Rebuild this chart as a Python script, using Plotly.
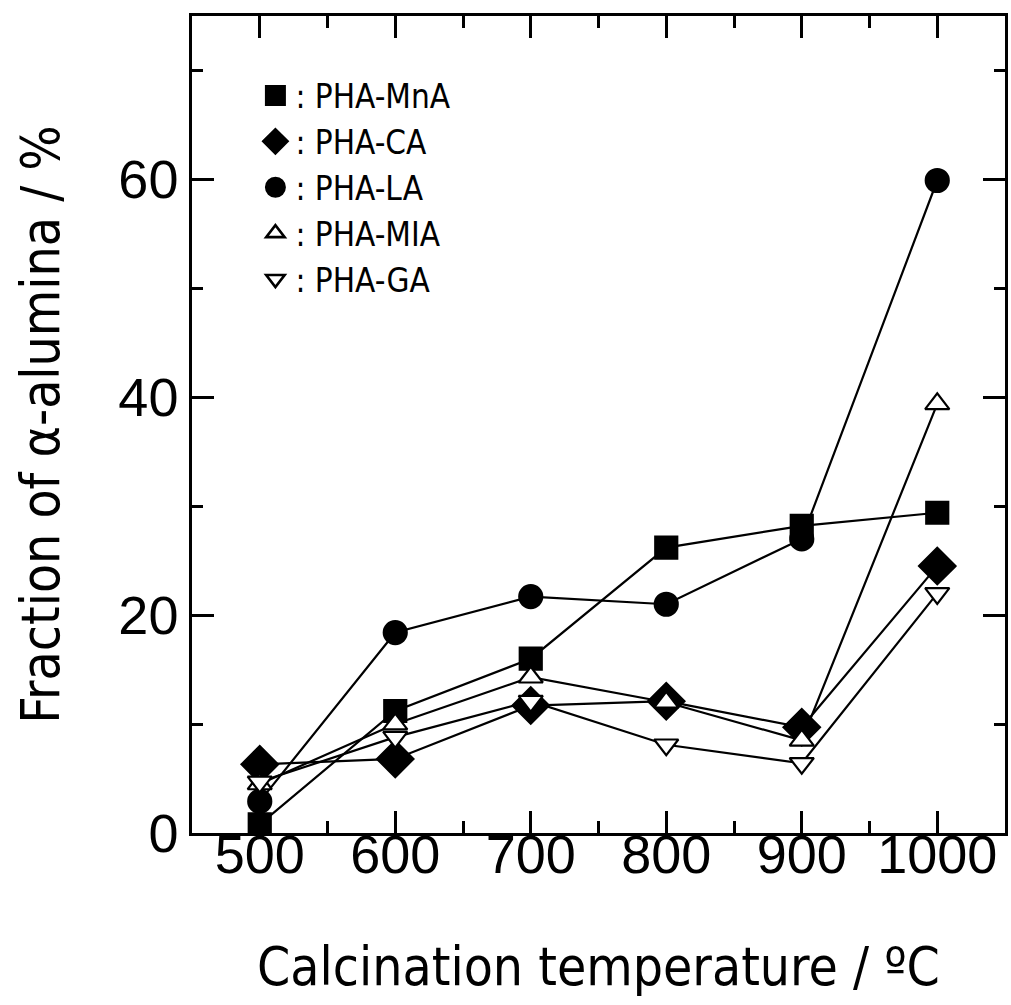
import plotly.graph_objects as go

temps = [500, 600, 700, 800, 900, 1000]
pha_mna = [0.8, 11.2, 16.0, 26.2, 28.2, 29.4]
pha_ca = [6.3, 6.8, 11.7, 12.1, 9.7, 24.5]
pha_la = [2.9, 18.4, 21.7, 21.0, 27.0, 59.9]
pha_mia = [4.5, 10.0, 14.3, 12.0, 8.5, 39.4]
pha_ga = [4.7, 8.8, 12.1, 8.1, 6.4, 22.0]

names = [": PHA-MnA", ": PHA-CA", ": PHA-LA", ": PHA-MIA", ": PHA-GA"]
values = [pha_mna, pha_ca, pha_la, pha_mia, pha_ga]
symbols = ["square", "diamond", "circle", "triangle-up", "triangle-down"]
fills = ["black", "black", "black", "white", "white"]
sizes = [22, 28, 23, 21, 21]

NARROW = "DejaVu Sans Condensed, Liberation Sans Narrow, Arial Narrow"

fig = go.Figure()
# connecting lines
for vals in values:
    fig.add_trace(go.Scatter(
        x=temps, y=vals, mode="lines", showlegend=False,
        line=dict(color="black", width=2.2), hoverinfo="skip"))
# data markers
for name, vals, sym, fill, size in zip(names, values, symbols, fills, sizes):
    fig.add_trace(go.Scatter(
        x=temps, y=vals, mode="markers", name=name, showlegend=False,
        marker=dict(symbol=sym, size=size, color=fill,
                    line=dict(color="black", width=2.2))))
# legend keys (no data)
for name, sym, fill in zip(names, symbols, fills):
    solid = fill == "black"
    fig.add_trace(go.Scatter(
        x=[None], y=[None], mode="markers", name=name, showlegend=True,
        marker=dict(symbol=sym, size=16, color=fill,
                    line=dict(color="black", width=5 if solid else 2.6))))

axis_common = dict(
    showline=True, linecolor="black", linewidth=2.5, mirror="ticks",
    ticks="inside", ticklen=22, tickwidth=2.5, tickcolor="black",
    showgrid=False, zeroline=False,
    tickfont=dict(family="Liberation Sans, Arial", size=54, color="black"),
)

fig.update_xaxes(
    range=[450, 1050], tickvals=[500, 600, 700, 800, 900, 1000],
    minor=dict(tickvals=[550, 650, 750, 850, 950], ticks="inside", ticklen=12,
               tickwidth=2.5, tickcolor="black", showgrid=False),
    ticklabelstandoff=-28,
    title=dict(text="Calcination temperature / ºC",
               font=dict(family=NARROW, size=53, color="black"),
               standoff=66),
    **axis_common)
fig.update_yaxes(
    range=[0, 75], tickvals=[0, 20, 40, 60],
    minor=dict(tickvals=[10, 30, 50, 70], ticks="inside", ticklen=11,
               tickwidth=2.5, tickcolor="black", showgrid=False),
    title=dict(text="Fraction of α-alumina / %",
               font=dict(family=NARROW, size=53, color="black"),
               standoff=42),
    **axis_common)

fig.update_layout(
    width=1011, height=1005,
    margin=dict(l=192, r=3, t=16, b=172),
    plot_bgcolor="white", paper_bgcolor="white",
    showlegend=True,
    legend=dict(x=0.078, y=0.937, xanchor="left", yanchor="top",
                bgcolor="rgba(0,0,0,0)", borderwidth=0,
                font=dict(family=NARROW, size=33, color="black"),
                itemsizing="trace", tracegroupgap=0),
)

fig.write_html("out.html", config={"displayModeBar": False},
               post_script="document.body.style.margin='0';")
